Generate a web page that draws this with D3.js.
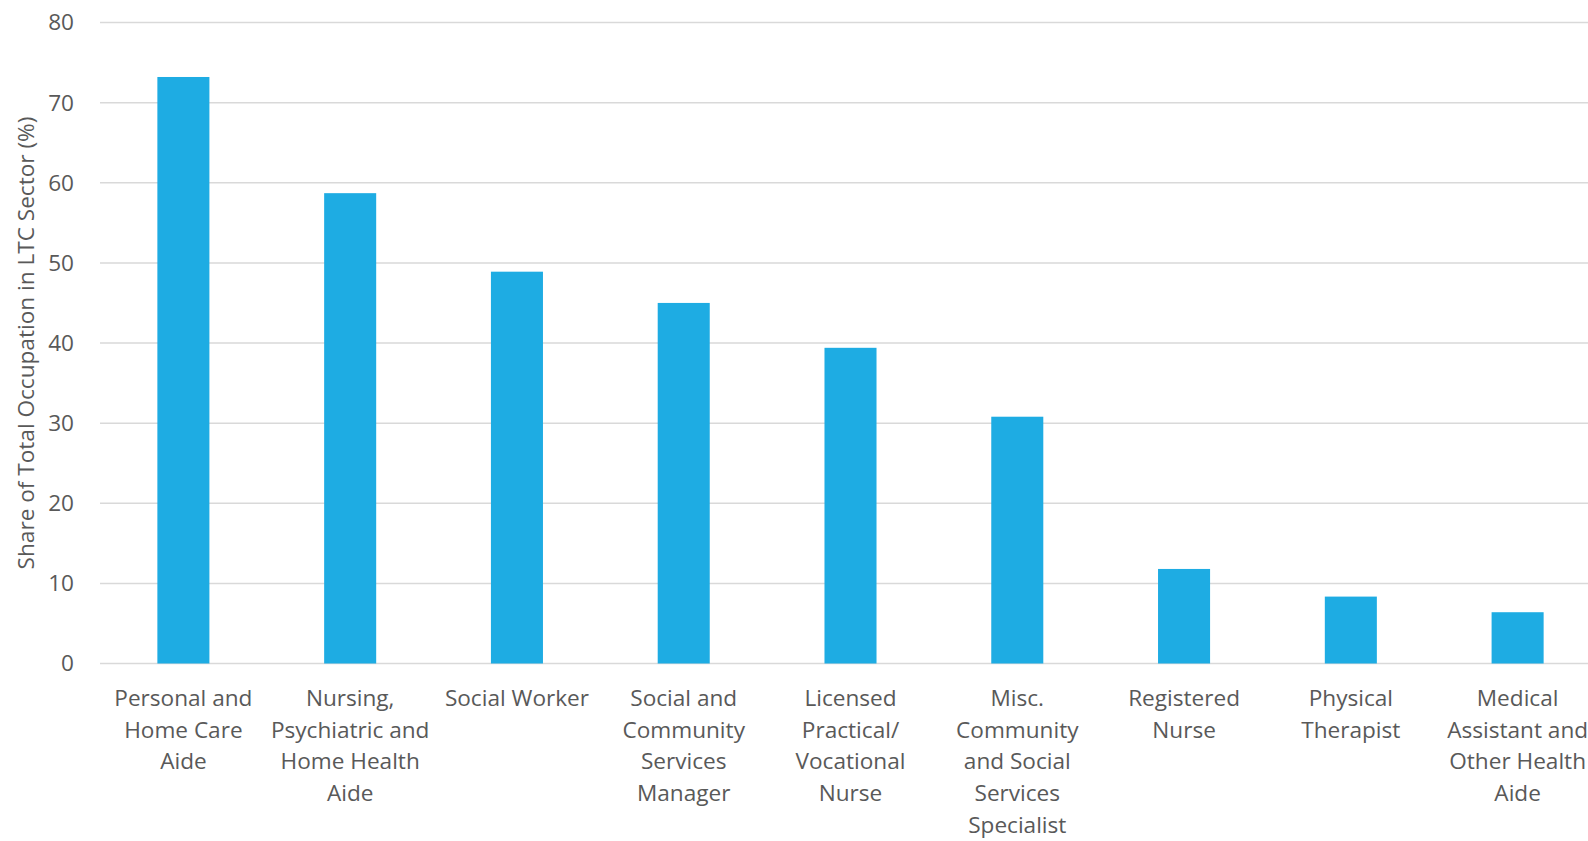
<!DOCTYPE html>
<html>
<head>
<meta charset="utf-8">
<script src="https://cdn.jsdelivr.net/npm/d3@7"></script>
<style>
  body { margin: 0; background: #fff; }
  text { font-family: "Open Sans", sans-serif; fill: #595959; }
</style>
</head>
<body>
<div id="chart"></div>
<script>
// occupations, line breaks as they wrap under each bar
const categories = [
  'Personal and\nHome Care\nAide',
  'Nursing,\nPsychiatric and\nHome Health\nAide',
  'Social Worker',
  'Social and\nCommunity\nServices\nManager',
  'Licensed\nPractical/\nVocational\nNurse',
  'Misc.\nCommunity\nand Social\nServices\nSpecialist',
  'Registered\nNurse',
  'Physical\nTherapist',
  'Medical\nAssistant and\nOther Health\nAide',
];
const shares = [73.2, 58.7, 48.9, 45.0, 39.4, 30.8, 11.8, 8.35, 6.4];
const yTicks = [0, 10, 20, 30, 40, 50, 60, 70, 80];
const yTitle = 'Share of Total Occupation in LTC Sector (%)';

const width = 1588, height = 841;
const margin = { top: 22.5, right: -13, bottom: 177.5, left: 100 };
const innerW = width - margin.left - margin.right;
const innerH = height - margin.top - margin.bottom;
const fontSize = '22.6px';

let svg = d3.select('#chart').append('svg')
  .attr('width', width)
  .attr('height', height)
  .append('g')
  .attr('transform', `translate(${margin.left}, ${margin.top})`);

let x = d3.scaleBand()
  .domain(d3.range(categories.length))
  .range([0, innerW])
  .paddingInner(0.688)
  .paddingOuter(0.344);

let y = d3.scaleLinear().domain([0, 80]).range([innerH, 0]);

// gridlines
svg.append('g').selectAll('line')
  .data(yTicks)
  .enter().append('line')
    .attr('x1', 0)
    .attr('x2', innerW)
    .attr('y1', d => y(d))
    .attr('y2', d => y(d))
    .style('stroke', '#d9d9d9')
    .style('stroke-width', 1.5);

// y tick labels
svg.append('g').selectAll('text')
  .data(yTicks)
  .enter().append('text')
    .attr('x', -26)
    .attr('y', d => y(d))
    .attr('dy', '0.35em')
    .attr('text-anchor', 'end')
    .style('font-size', fontSize)
    .text(d => d);

// bars
svg.append('g').selectAll('rect')
  .data(shares)
  .enter().append('rect')
    .attr('x', (d, i) => x(i))
    .attr('width', x.bandwidth())
    .attr('y', d => y(d))
    .attr('height', d => innerH - y(d))
    .style('fill', '#1eace3');

// category labels
let labels = svg.append('g').selectAll('text')
  .data(categories)
  .enter().append('text')
    .attr('text-anchor', 'middle')
    .attr('transform', (d, i) => `translate(${x(i) + x.bandwidth() / 2}, ${innerH + 42.5})`)
    .style('font-size', fontSize);

labels.selectAll('tspan')
  .data(d => d.split('\n'))
  .enter().append('tspan')
    .attr('x', 0)
    .attr('y', (d, i) => i * 31.7)
    .text(d => d);

// y title
svg.append('text')
  .attr('transform', `translate(${-100 + 34}, ${innerH / 2}) rotate(-90)`)
  .attr('text-anchor', 'middle')
  .style('font-size', fontSize)
  .text(yTitle);
</script>
</body>
</html>
